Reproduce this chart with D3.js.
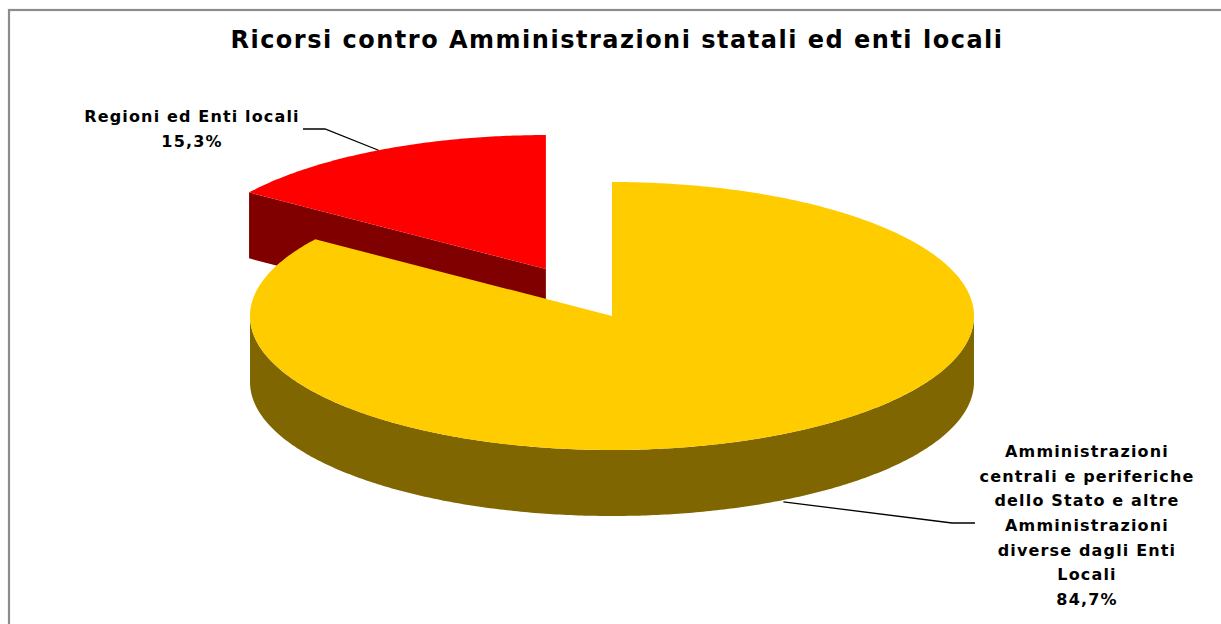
<!DOCTYPE html>
<html>
<head>
<meta charset="utf-8">
<script src="https://cdn.jsdelivr.net/npm/d3@7"></script>
<style>
  html, body { margin: 0; padding: 0; background: #fff; }
  svg { display: block; }
</style>
</head>
<body>
<svg id="chart" width="1221" height="624"></svg>
<script>
// Data
const title = "Ricorsi contro Amministrazioni statali ed enti locali";
const categories = [
  "Amministrazioni centrali e periferiche dello Stato e altre Amministrazioni diverse dagli Enti Locali",
  "Regioni ed Enti locali"
];
const shares = [84.7, 15.3];
const shareLabels = ["84,7%", "15,3%"];
const labelLines = [
  ["Amministrazioni", "centrali e periferiche", "dello Stato e altre", "Amministrazioni", "diverse dagli Enti", "Locali"],
  ["Regioni ed Enti locali"]
];
const topColors = ["#FFCC00", "#FF0000"];
const sideColors = ["#806600", "#800000"];
const exploded = [0, 1];

// Layout
const W = 1221, H = 624;
const cx = 612, cy = 316;      // pie centre
const rx = 362, ry = 134;      // ellipse radii of the tilted top face
const depth = 66;              // thickness of the pie
const explodeDist = 143;       // slice explosion, in horizontal radius units

const svg = d3.select("#chart");

// Frame
svg.append("rect")
  .attr("x", 9).attr("y", 10)
  .attr("width", W).attr("height", H)
  .attr("fill", "#fff")
  .attr("stroke", "#8c8c8c")
  .attr("stroke-width", 2.2);

// Title
svg.append("text")
  .attr("x", 617).attr("y", 48)
  .attr("text-anchor", "middle")
  .attr("font-family", "DejaVu Sans, Verdana, sans-serif")
  .attr("font-weight", "bold")
  .attr("font-size", 24)
  .attr("letter-spacing", 1.5)
  .attr("fill", "#000")
  .text(title);

const pie = d3.pie().sort(null).startAngle(0).endAngle(2 * Math.PI);
const arcs = pie(shares);

// Angle measured clockwise from 12 o'clock
function pt(a, ox, oy, dz) {
  return [ox + rx * Math.sin(a), oy - ry * Math.cos(a) + (dz || 0)];
}
function arcPts(a0, a1, ox, oy, dz) {
  const n = Math.max(2, Math.ceil(Math.abs(a1 - a0) / 0.01));
  return d3.range(n + 1).map(i => pt(a0 + (a1 - a0) * i / n, ox, oy, dz));
}
const line = d3.line();

const slices = arcs.map((d, i) => {
  const mid = (d.startAngle + d.endAngle) / 2;
  const e = exploded[i] ? explodeDist : 0;
  const ox = cx + e * Math.sin(mid);
  const oy = cy - e * Math.cos(mid) * (ry / rx);
  return { d, i, mid, ox, oy };
});

// Draw the farther (exploded, back) slice first
const order = slices.slice().sort((a, b) => a.oy - b.oy);

order.forEach(s => {
  const { d, i, ox, oy } = s;
  const g = svg.append("g");
  const a0 = d.startAngle, a1 = d.endAngle;

  // Radial cut faces, visible when their outward normal points toward the viewer
  [[a0, a0 - Math.PI / 2], [a1, a1 + Math.PI / 2]].forEach(([a, n]) => {
    if (Math.cos(n - Math.PI) > 1e-6) {
      const p = pt(a, ox, oy);
      g.append("path")
        .attr("d", line([[ox, oy], p, [p[0], p[1] + depth], [ox, oy + depth]]) + "Z")
        .attr("fill", sideColors[i]);
    }
  });

  // Outer curved wall: front half only (angles between 90° and 270°)
  const w0 = Math.max(a0, Math.PI / 2), w1 = Math.min(a1, 3 * Math.PI / 2);
  if (w1 > w0) {
    const top = arcPts(w0, w1, ox, oy, 0);
    const bot = arcPts(w1, w0, ox, oy, depth);
    g.append("path")
      .attr("d", line(top.concat(bot)) + "Z")
      .attr("fill", sideColors[i]);
  }

  // Top face
  g.append("path")
    .attr("d", line([[ox, oy]].concat(arcPts(a0, a1, ox, oy, 0))) + "Z")
    .attr("fill", topColors[i]);
});

// Labels with leader lines
const lblFont = "DejaVu Sans, Verdana, sans-serif";
function drawLabel(x, y0, lines, step) {
  const t = svg.append("text")
    .attr("text-anchor", "middle")
    .attr("font-family", lblFont)
    .attr("font-weight", "bold")
    .attr("font-size", 16)
    .attr("letter-spacing", 1.15)
    .attr("fill", "#000");
  lines.forEach((l, k) => {
    t.append("tspan").attr("x", x).attr("y", y0 + k * step).text(l);
  });
}

// Regioni ed Enti locali (exploded slice): leader from the top rim at the mid angle
{
  const s = slices[1];
  const p = pt(s.mid, s.ox, s.oy, 0);
  svg.append("path")
    .attr("d", line([[303, 129], [325, 129], p]))
    .attr("fill", "none").attr("stroke", "#000").attr("stroke-width", 1.3);
  drawLabel(192, 122, labelLines[1].concat([shareLabels[1]]), 25);
}
// Amministrazioni centrali ... : leader from the bottom rim at the mid angle
{
  const s = slices[0];
  const p = pt(s.mid, s.ox, s.oy, depth);
  svg.append("path")
    .attr("d", line([[p[0] + 4, p[1] + 1], [952, 523], [975, 523]]))
    .attr("fill", "none").attr("stroke", "#000").attr("stroke-width", 1.3);
  drawLabel(1087, 457, labelLines[0].concat([shareLabels[0]]), 24.67);
}
</script>
</body>
</html>
